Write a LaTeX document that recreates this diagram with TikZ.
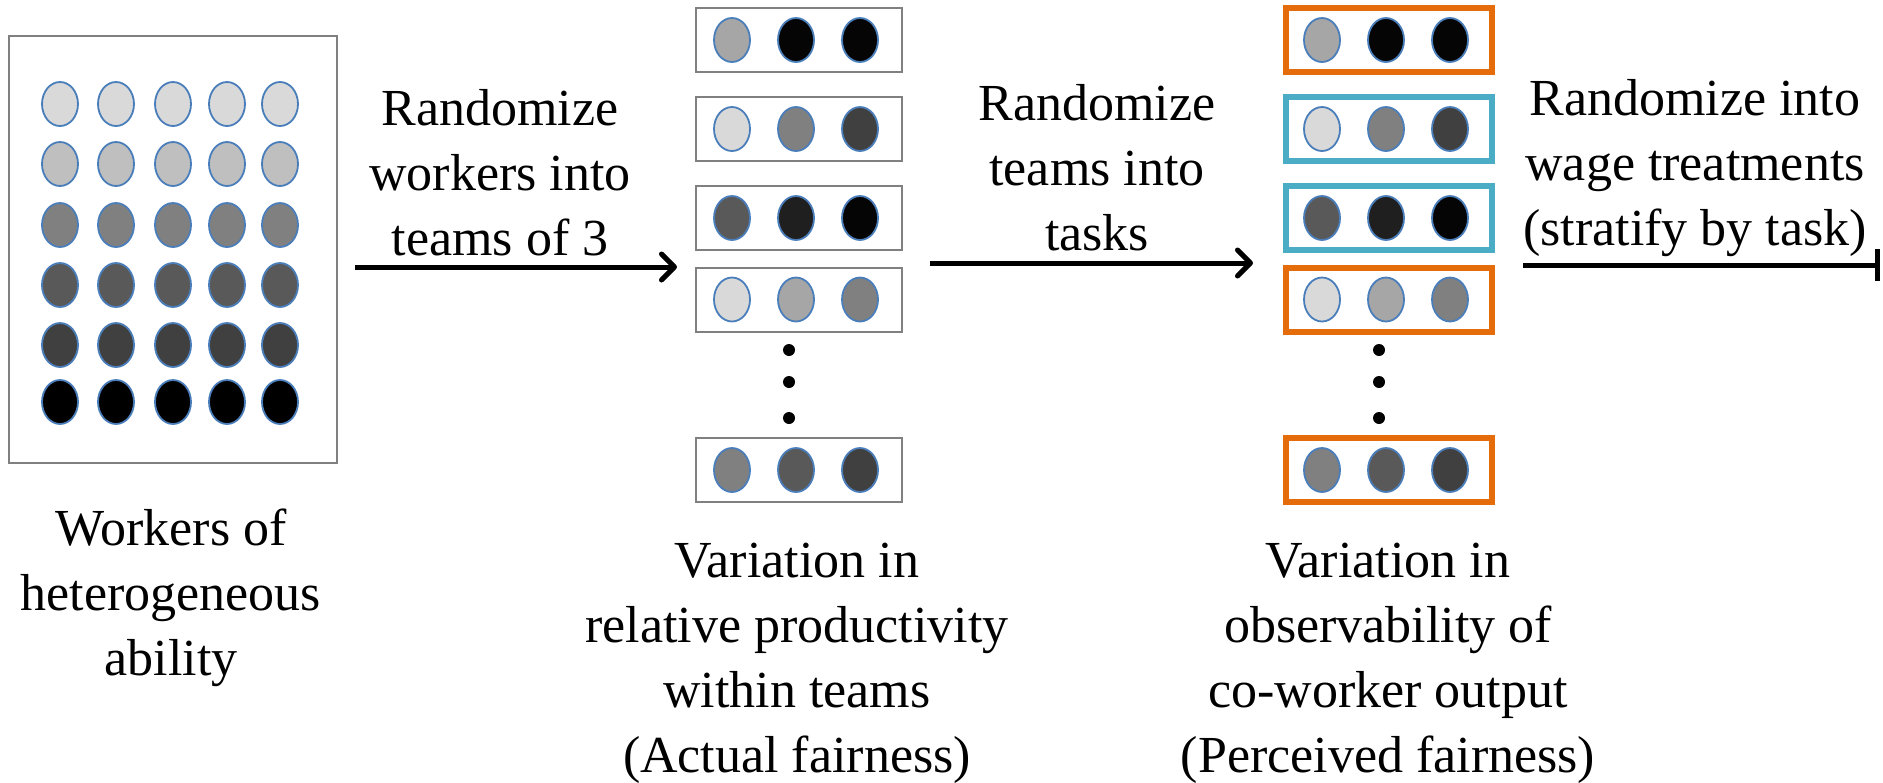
\documentclass[tikz,border=0pt]{standalone}
\usepackage{fontspec}
\setmainfont{Liberation Serif}
\usetikzlibrary{arrows.meta,shapes.geometric}

\definecolor{wblue}{HTML}{4A7EBB}
\definecolor{boxgray}{HTML}{808080}
\definecolor{taskorange}{HTML}{E46C0A}
\definecolor{taskcyan}{HTML}{4BACC6}

\begin{document}
\begin{tikzpicture}[
		x=0.5pt, y=-0.5pt,
		worker/.style={ellipse, draw=wblue, line width=0.9pt, minimum width=18pt, minimum height=22pt, inner sep=0pt},
		pool/.style={draw=boxgray, line width=1pt, minimum width=164pt, minimum height=213.5pt, inner sep=0pt},
		team/.style={draw=boxgray, line width=1pt, minimum width=103pt, minimum height=32pt, inner sep=0pt},
		taskA/.style={team, draw=taskorange, line width=3pt},
		taskB/.style={team, draw=taskcyan, line width=3pt},
		dot/.style={circle, fill=black, minimum size=6pt, inner sep=0pt},
		txt/.style={align=center, font=\fontsize{26}{32.5}\selectfont, inner sep=0pt, anchor=base},
		flow/.style={line width=2.5pt, -{Straight Barb[length=6.5pt,width=13pt,round]}}
	]
	\useasboundingbox (0,0) rectangle (1883,782);

	% >> pool of workers
	\node[pool] (pool) at (173,249.5) {};
	\foreach \y/\s [count=\r] in {104/15,164/25,225/50,285/65,345/75,402/100}
		\foreach \x [count=\k] in {60,116,173,227,280}
			\node[worker, fill=black!\s] (w\r-\k) at (\x,\y) {};

	% >> teams and tasks
	\foreach \y/\sa/\sb/\sc/\t [count=\n] in {40/35/98/98/taskA, 129/15/50/75/taskB, 218/65/88/98/taskB, 299.5/15/35/50/taskA, 470/50/65/75/taskA} {
		\node[team] (team\n) at (799,\y) {};
		\node[\t] (task\n) at (1389,\y) {};
		\foreach \s/\dx [count=\m] in {\sa/-67,\sb/-3,\sc/61} {
			\node[worker, fill=black!\s] (tw\n-\m) at (799+\dx,\y) {};
			\node[worker, fill=black!\s] (kw\n-\m) at (1389+\dx,\y) {};
		}
	}
	\foreach \y [count=\n] in {350,382,418} {
		\node[dot] (gap\n) at (789,\y) {};
		\node[dot] (kgap\n) at (1379,\y) {};
	}

	% >> steps
	\coordinate (a1s) at (355,267);
	\coordinate (a1e) at (677,267);
	\coordinate (a2s) at (930,263);
	\coordinate (a2e) at (1253,263);
	\coordinate (a3s) at (1523,265);
	\coordinate (a3e) at (1880,265);
	\draw[flow] (a1s) -- (a1e);
	\draw[flow] (a2s) -- (a2e);
	\draw[line width=2.5pt, -{Bar[width=16pt,line width=2.5pt]}] (a3s) -- (a3e);

	% base anchor = last line
	\node[txt] (step1) at (500,255) {Randomize\\workers into\\teams of 3};
	\node[txt] (step2) at (1097,250) {Randomize\\teams into\\tasks};
	\node[txt] (step3) at (1695,245) {Randomize into\\wage treatments\\(stratify by task)};

	\node[txt] (poolcap) at (171,675) {Workers of\\heterogeneous\\ability};
	\node[txt] (teamcap) at (797,772) {Variation in\\relative productivity\\within teams\\(Actual fairness)};
	\node[txt] (taskcap) at (1388,772) {Variation in\\observability of\\co-worker output\\(Perceived fairness)};
\end{tikzpicture}
\end{document}
